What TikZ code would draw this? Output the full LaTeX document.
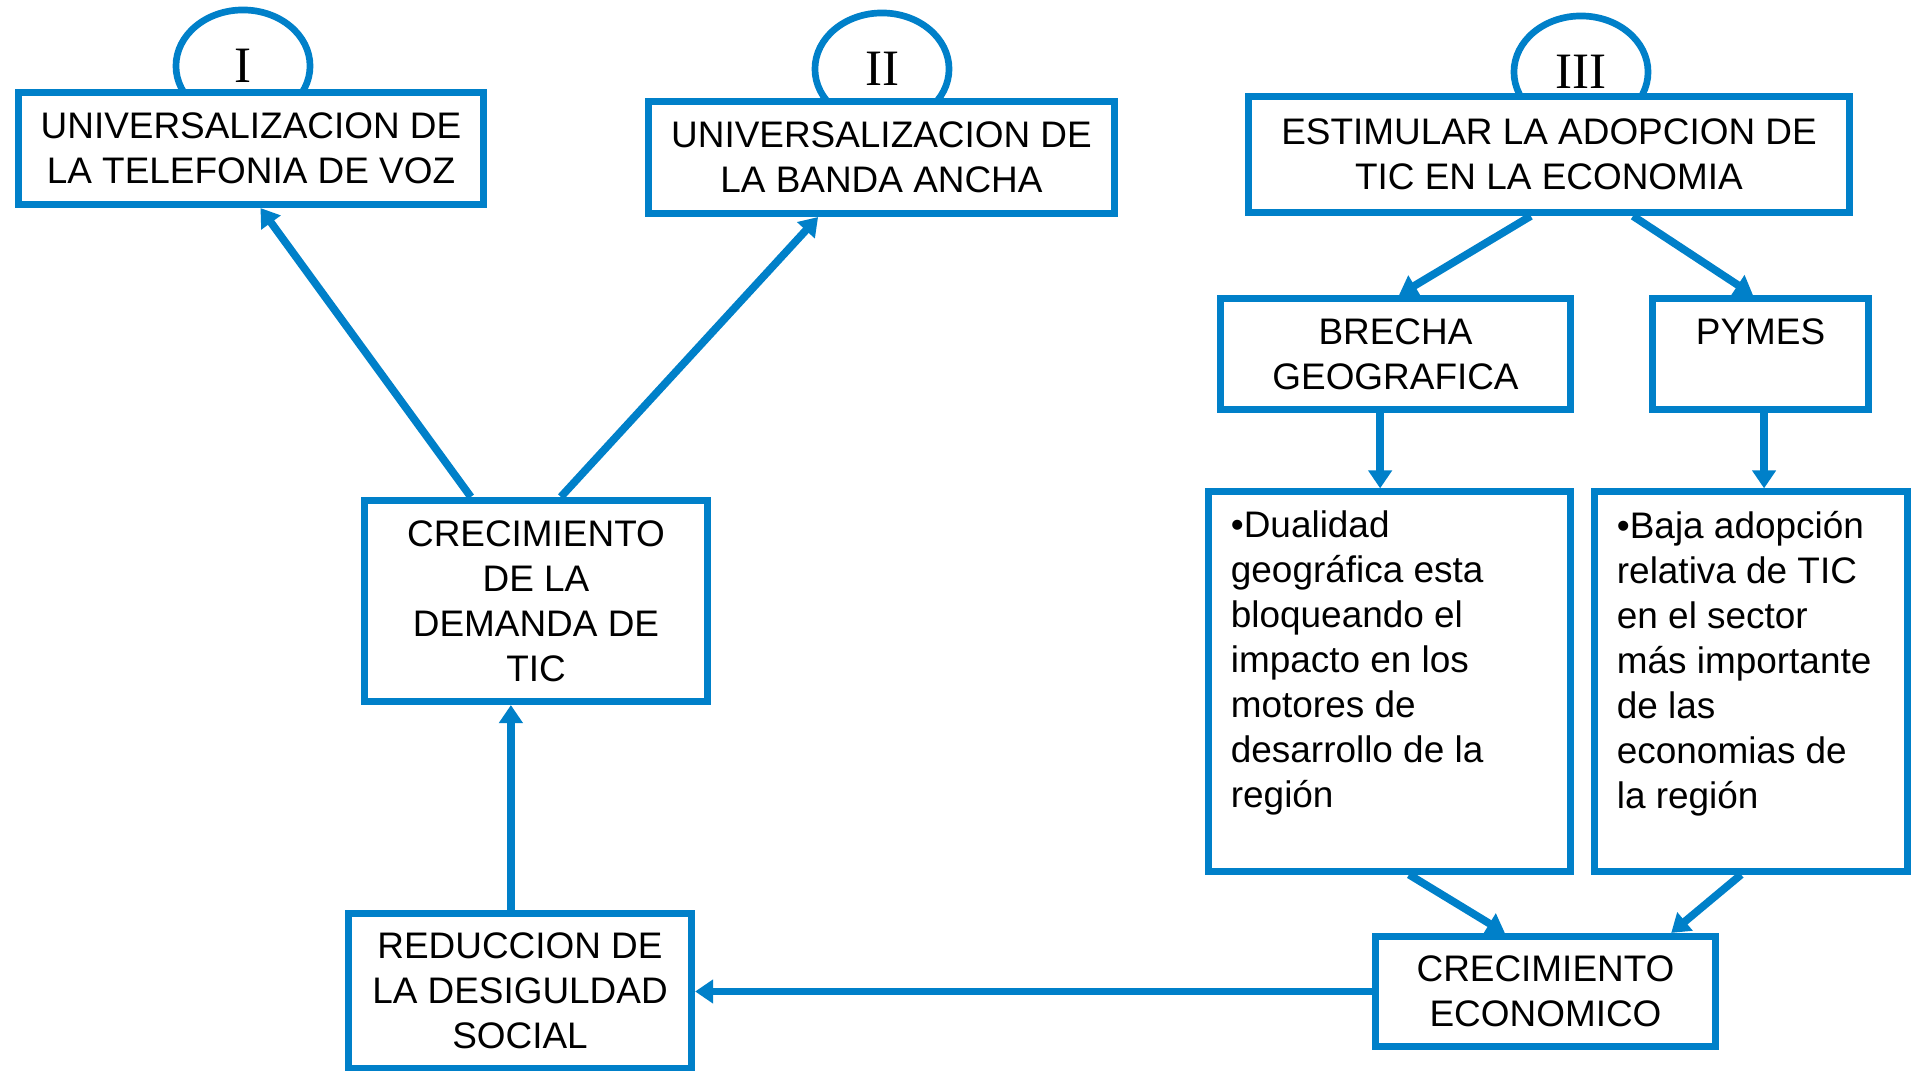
\documentclass[tikz,border=0pt]{standalone}
\usepackage{fontspec}
\setmainfont{Liberation Sans}
\newfontfamily\romano{Liberation Serif}
\usetikzlibrary{calc,arrows.meta,shapes.geometric}
\definecolor{azul}{RGB}{0,128,201}

\begin{document}
\begin{tikzpicture}[x=0.01cm,y=-0.01cm,
    caja/.style={draw=azul,line width=2pt,fill=white,align=center,inner sep=0pt,font=\fontsize{10.5}{12.8}\selectfont},
    cajatexto/.style={draw=azul,line width=2pt,fill=white,inner xsep=0.22cm,inner ysep=0.19cm,font=\fontsize{10.5}{12.8}\selectfont},
    anillo/.style={ellipse,draw=azul,line width=1.9pt,fill=white,inner sep=0pt,minimum width=1.34cm,minimum height=1.12cm,font=\romano\fontsize{14.5}{16}\selectfont},
    flecha/.style={draw=azul,line width=2.2pt,-{Triangle[length=0.18cm,width=0.23cm]}}]
    \useasboundingbox (0,0) rectangle (1920,1071);

    % numeros de los ejes
    \node[anillo] (uno) at (243,66) {I};
    \node[anillo] (dos) at (882,69) {II};
    \node[anillo] (tres) at (1581,72) {III};

    % cajas de arriba
    \node[caja,minimum width=4.65cm,minimum height=1.12cm] (tel) at (251,148.5) {UNIVERSALIZACION DE\\LA TELEFONIA DE VOZ};
    \node[caja,minimum width=4.66cm,minimum height=1.12cm] (banda) at (881.5,157.5) {UNIVERSALIZACION DE\\LA BANDA ANCHA};
    \node[caja,minimum width=6.01cm,minimum height=1.16cm] (tic) at (1549,154.5) {ESTIMULAR LA ADOPCION DE\\TIC EN LA ECONOMIA};
    \node[caja,minimum width=3.5cm,minimum height=1.11cm] (brecha) at (1395.5,354) {BRECHA\\GEOGRAFICA};
    \node[caja,minimum width=2.16cm,minimum height=1.11cm] (pymes) at (1760.5,354) {PYMES\\\mbox{}};

    % cajas de texto
    \node[cajatexto] (dualidad) at (1389.5,681.5) {\parbox[c][3.41cm][t]{3.17cm}{\raggedright
        •Dualidad\\geográfica esta\\bloqueando el\\impacto en los\\motores de\\desarrollo de la\\región}};
    \node[cajatexto] (baja) at (1751,681.5) {\parbox[c][3.41cm][t]{2.68cm}{\raggedright
        •Baja adopción\\relativa de TIC\\en el sector\\más importante\\de las\\economias de\\la región}};

    % cajas de abajo
    \node[caja,minimum width=3.4cm,minimum height=1.1cm] (econ) at (1545.5,991.5) {CRECIMIENTO\\ECONOMICO};
    \node[caja,minimum width=3.43cm,minimum height=2.01cm] (demanda) at (536,601) {CRECIMIENTO\\DE LA\\DEMANDA DE\\TIC};
    \node[caja,minimum width=3.43cm,minimum height=1.55cm] (reduccion) at (520,991) {REDUCCION DE\\LA DESIGULDAD\\SOCIAL};

    % flechas
    \draw[flecha] ($(demanda.north west)!.314!(demanda.north east)$) -- ($(tel.south west)!.52!(tel.south east)$);
    \draw[flecha] ($(demanda.north west)!.571!(demanda.north east)$) -- ($(banda.south west)!.366!(banda.south east)$);
    \coordinate (r) at ($(reduccion.north west)!.474!(reduccion.north east)$);
    \draw[flecha] (r) -- (r |- demanda.south);
    \draw[flecha] (econ.west) -- (econ.west -| reduccion.east);
    \draw[flecha] ($(tic.south west)!.47!(tic.south east)$) -- ($(brecha.north west)!.51!(brecha.north east)$);
    \draw[flecha] ($(tic.south west)!.638!(tic.south east)$) -- ($(pymes.north west)!.466!(pymes.north east)$);
    \coordinate (b) at ($(brecha.south west)!.457!(brecha.south east)$);
    \draw[flecha] (b) -- (b |- dualidad.north);
    \coordinate (p) at ($(pymes.south west)!.516!(pymes.south east)$);
    \draw[flecha] (p) -- (p |- baja.north);
    \draw[flecha] ($(dualidad.south west)!.553!(dualidad.south east)$) -- ($(econ.north west)!.383!(econ.north east)$);
    \draw[flecha] ($(baja.south west)!.469!(baja.south east)$) -- ($(econ.north west)!.862!(econ.north east)$);
\end{tikzpicture}
\end{document}
